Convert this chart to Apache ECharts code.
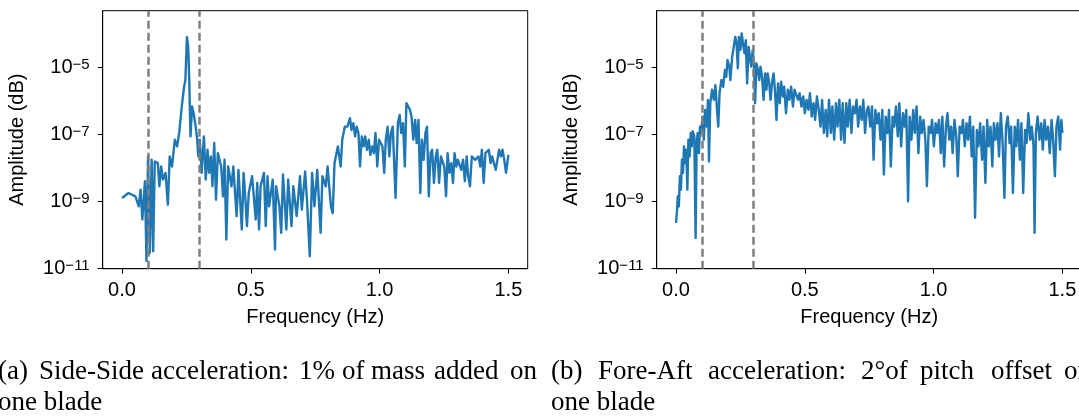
<!DOCTYPE html>
<html>
<head>
<meta charset="utf-8">
<script src="https://cdn.jsdelivr.net/npm/echarts@6/dist/echarts.min.js"></script>
<style>
html,body{margin:0;padding:0;background:#fff;}
#chart{width:1079px;height:416px;}
</style>
</head>
<body>
<div id="chart"></div>
<script>
// ---- data (frequency in Hz, amplitude stored as log10 of the value) ----
const xTickValues = [0, 0.5, 1.0, 1.5];
const yTickValues = [1e-11, 1e-9, 1e-7, 1e-5];
const markerFreqs = [0.1, 0.3];

const sideSideFreq = [
0.000,0.025,0.052,0.065,0.072,0.079,0.089,0.095,0.101,0.108,
0.115,0.121,0.127,0.139,0.145,0.152,0.159,0.169,0.178,0.185,
0.194,0.205,0.214,0.222,0.232,0.241,0.246,0.252,0.257,0.261,
0.264,0.266,0.272,0.278,0.285,0.292,0.296,0.302,0.309,0.318,
0.325,0.332,0.338,0.345,0.351,0.358,0.365,0.372,0.385,0.392,
0.398,0.405,0.412,0.425,0.432,0.445,0.452,0.465,0.472,0.479,
0.485,0.492,0.505,0.519,0.525,0.532,0.538,0.551,0.558,0.565,
0.571,0.585,0.594,0.598,0.611,0.618,0.625,0.638,0.645,0.658,
0.665,0.678,0.691,0.698,0.711,0.718,0.729,0.738,0.747,0.758,
0.771,0.778,0.791,0.798,0.811,0.818,0.825,0.838,0.849,0.855,
0.865,0.875,0.885,0.891,0.898,0.905,0.911,0.918,0.924,0.931,
0.938,0.944,0.951,0.958,0.964,0.971,0.978,0.984,0.991,0.998,
1.011,1.018,1.024,1.031,1.038,1.044,1.051,1.062,1.071,1.078,
1.084,1.091,1.098,1.104,1.111,1.118,1.124,1.131,1.138,1.144,
1.151,1.158,1.164,1.171,1.178,1.184,1.191,1.198,1.204,1.211,
1.218,1.224,1.231,1.238,1.251,1.258,1.264,1.271,1.278,1.285,
1.291,1.298,1.304,1.317,1.324,1.331,1.338,1.344,1.351,1.358,
1.371,1.384,1.391,1.397,1.404,1.411,1.424,1.431,1.437,1.451,
1.464,1.471,1.477,1.484,1.491,1.500
];
const sideSideLogAmp = [
-8.89,-8.74,-8.84,-9.14,-8.64,-9.53,-8.39,-10.77,-7.65,-10.53,
-7.75,-10.48,-7.80,-7.85,-8.54,-7.95,-8.34,-8.14,-9.09,-7.65,
-7.95,-7.15,-7.35,-6.95,-6.16,-5.57,-5.37,-4.08,-4.38,-5.37,
-6.46,-7.05,-6.16,-6.36,-6.71,-7.15,-7.65,-7.15,-8.14,-7.05,
-8.34,-7.45,-8.14,-7.65,-8.54,-7.25,-8.94,-7.55,-7.95,-8.84,
-7.75,-10.13,-7.95,-8.54,-7.95,-9.43,-8.05,-9.83,-8.14,-8.94,
-9.73,-8.74,-8.24,-9.53,-8.44,-9.83,-8.54,-8.14,-9.73,-8.24,
-9.14,-8.34,-10.43,-8.54,-9.14,-9.93,-8.19,-9.83,-8.34,-9.73,
-8.54,-9.43,-8.24,-9.24,-8.10,-8.94,-10.63,-8.14,-9.14,-8.05,
-9.93,-8.24,-8.54,-7.95,-9.14,-9.34,-7.85,-7.35,-7.95,-7.15,
-6.76,-6.76,-6.51,-6.86,-6.66,-7.05,-6.76,-6.95,-7.95,-7.05,
-7.35,-7.05,-7.45,-7.15,-7.60,-7.35,-7.55,-6.95,-7.95,-7.15,
-7.35,-8.14,-7.15,-6.76,-7.65,-6.95,-6.76,-8.89,-6.66,-6.41,
-6.95,-6.66,-7.95,-6.06,-6.11,-6.26,-6.46,-7.15,-6.56,-7.25,
-6.56,-8.74,-7.15,-7.75,-6.95,-6.76,-8.84,-7.55,-7.45,-8.44,
-7.65,-7.45,-8.44,-7.65,-7.95,-8.84,-7.55,-8.14,-7.85,-8.44,
-7.55,-7.95,-7.75,-8.05,-7.75,-8.39,-7.65,-8.24,-8.54,-7.65,
-7.75,-7.65,-7.95,-7.45,-8.44,-7.55,-7.45,-7.85,-7.65,-8.05,
-7.45,-7.65,-7.45,-7.75,-8.14,-7.60
];

const foreAftFreq = [
0.000,0.004,0.007,0.011,0.015,0.019,0.023,0.027,0.031,0.036,
0.040,0.044,0.048,0.053,0.057,0.061,0.065,0.071,0.076,0.080,
0.084,0.089,0.093,0.097,0.103,0.108,0.113,0.119,0.124,0.128,
0.133,0.140,0.147,0.153,0.160,0.164,0.169,0.176,0.183,0.190,
0.195,0.200,0.207,0.211,0.218,0.224,0.230,0.235,0.240,0.244,
0.250,0.255,0.260,0.266,0.271,0.276,0.282,0.287,0.292,0.298,
0.303,0.307,0.312,0.318,0.323,0.328,0.334,0.340,0.346,0.351,
0.356,0.362,0.367,0.374,0.379,0.384,0.390,0.396,0.403,0.408,
0.415,0.420,0.427,0.434,0.440,0.447,0.454,0.460,0.467,0.474,
0.480,0.487,0.494,0.500,0.507,0.514,0.520,0.527,0.534,0.540,
0.547,0.554,0.561,0.567,0.574,0.581,0.587,0.594,0.601,0.607,
0.614,0.621,0.627,0.634,0.641,0.647,0.654,0.661,0.667,0.674,
0.681,0.687,0.694,0.701,0.707,0.714,0.721,0.727,0.734,0.741,
0.747,0.754,0.761,0.767,0.774,0.781,0.787,0.794,0.801,0.807,
0.814,0.821,0.827,0.834,0.841,0.847,0.854,0.861,0.867,0.874,
0.881,0.887,0.894,0.901,0.907,0.914,0.921,0.927,0.934,0.941,
0.948,0.954,0.961,0.968,0.974,0.981,0.988,0.994,1.001,1.008,
1.014,1.021,1.028,1.034,1.041,1.048,1.054,1.061,1.068,1.074,
1.081,1.088,1.094,1.101,1.108,1.114,1.121,1.128,1.134,1.141,
1.148,1.154,1.161,1.168,1.174,1.181,1.188,1.194,1.201,1.208,
1.214,1.221,1.228,1.234,1.241,1.248,1.254,1.261,1.268,1.275,
1.281,1.288,1.295,1.301,1.308,1.315,1.321,1.328,1.335,1.341,
1.348,1.355,1.361,1.368,1.375,1.381,1.388,1.392,1.397,1.404,
1.411,1.418,1.424,1.431,1.437,1.444,1.451,1.458,1.464,1.471,
1.477,1.484,1.491,1.496,1.500
];
const foreAftLogAmp = [
-9.63,-9.24,-8.84,-9.14,-8.24,-8.64,-7.75,-8.14,-7.35,-7.85,
-7.45,-8.64,-7.15,-7.65,-6.95,-7.35,-6.90,-7.05,-10.08,-7.25,
-6.95,-7.55,-6.76,-6.95,-6.46,-7.15,-6.26,-6.76,-5.96,-7.80,
-6.06,-5.66,-5.96,-5.52,-6.36,-6.76,-5.76,-5.37,-5.57,-5.07,
-5.27,-4.77,-4.97,-5.37,-4.67,-4.38,-4.08,-4.28,-5.02,-4.08,
-4.47,-3.98,-4.28,-4.57,-4.18,-5.47,-4.38,-4.67,-4.97,-4.47,
-4.97,-6.06,-4.87,-5.07,-5.37,-4.97,-5.27,-5.96,-5.17,-5.66,
-5.17,-5.47,-5.96,-5.37,-5.17,-5.66,-6.56,-5.47,-6.06,-5.42,
-5.86,-5.57,-6.36,-5.66,-5.96,-5.57,-6.16,-5.66,-5.62,-5.96,
-5.76,-6.16,-5.86,-6.36,-5.96,-6.26,-5.76,-6.46,-6.06,-6.56,
-5.86,-6.26,-6.76,-5.96,-6.95,-6.26,-7.05,-5.96,-6.95,-6.16,
-7.15,-6.06,-6.76,-5.96,-7.15,-6.06,-7.25,-6.06,-6.76,-5.96,
-6.95,-6.16,-6.36,-5.96,-6.76,-6.16,-6.56,-5.96,-6.95,-6.26,
-6.16,-6.76,-6.16,-7.75,-6.26,-6.66,-6.36,-7.15,-6.26,-8.19,
-6.46,-6.95,-6.26,-7.95,-6.46,-6.76,-6.16,-7.05,-6.06,-7.35,
-6.36,-6.76,-6.26,-8.99,-6.46,-7.15,-6.26,-6.95,-6.16,-7.55,
-6.46,-6.95,-6.56,-7.15,-8.54,-6.76,-6.95,-6.56,-7.35,-6.66,
-6.95,-6.56,-7.55,-6.46,-7.95,-6.76,-6.36,-7.15,-6.76,-7.55,
-6.56,-7.05,-8.24,-6.76,-6.95,-6.56,-7.35,-6.66,-7.15,-6.46,
-7.65,-6.76,-9.48,-6.86,-7.35,-6.66,-7.75,-6.76,-8.44,-6.56,
-7.35,-6.76,-7.95,-6.66,-7.15,-6.66,-7.65,-6.36,-7.25,-8.89,
-6.76,-6.46,-7.25,-6.76,-8.74,-6.76,-7.35,-6.56,-7.75,-6.66,
-8.74,-6.86,-7.25,-6.36,-7.15,-6.76,-7.35,-9.93,-6.95,-6.46,
-7.15,-6.66,-7.45,-6.56,-7.15,-6.76,-7.55,-6.56,-7.15,-8.24,
-6.76,-6.46,-7.45,-6.56,-6.95
];

// ---- chart ----
const SANS = '"Liberation Sans", Arial, sans-serif';
const SERIF = '"Liberation Serif", "DejaVu Serif", serif';

function pairs(freq, logAmp) {
  return freq.map((f, i) => [f, Math.pow(10, logAmp[i])]);
}

const grids = [
  {left: 102.7, top: 10.7, width: 425, height: 258},
  {left: 656.7, top: 10.7, width: 425, height: 258}
];

function xAxisCfg(i) {
  return {
    gridIndex: i, type: 'value', min: -0.075, max: 1.575,
    axisLine: {show: true, onZero: false, lineStyle: {color: '#000', width: 1}},
    axisTick: {show: true, customValues: xTickValues, length: 5, inside: false, lineStyle: {color: '#000', width: 1}},
    axisLabel: {show: true, customValues: xTickValues, formatter: v => Number(v).toFixed(1),
      fontSize: 20, lineHeight: 20, fontFamily: SANS, color: '#000', margin: 12},
    splitLine: {show: false},
    name: 'Frequency (Hz)', nameLocation: 'middle', nameGap: 39,
    nameTextStyle: {fontSize: 20, fontFamily: SANS, color: '#000'}
  };
}
function yAxisCfg(i) {
  return {
    gridIndex: i, type: 'log', logBase: 10, min: 1e-11, max: Math.pow(10, -3.3),
    axisLine: {show: true, onZero: false, lineStyle: {color: '#000', width: 1}},
    axisTick: {show: true, customValues: yTickValues, length: 5, inside: false, lineStyle: {color: '#000', width: 1}},
    axisLabel: {show: true, customValues: yTickValues, margin: 13,
      formatter: v => '{b|10}{s|\u2212' + Math.round(-Math.log10(v)) + '}',
      rich: {
        b: {fontSize: 20, lineHeight: 20, fontFamily: SANS, color: '#000', padding: [11, 0, 0, 0], verticalAlign: 'bottom'},
        s: {fontSize: 15, lineHeight: 15, fontFamily: SANS, color: '#000', verticalAlign: 'top'}
      }},
    splitLine: {show: false},
    name: 'Amplitude (dB)', nameLocation: 'middle', nameGap: 75, nameRotate: 90,
    nameTextStyle: {fontSize: 20, fontFamily: SANS, color: '#000'}
  };
}
function seriesCfg(i, data) {
  return {
    type: 'line', xAxisIndex: i, yAxisIndex: i, data: data,
    symbol: 'none', showSymbol: false, clip: true, animation: false,
    lineStyle: {color: '#1f77b4', width: 2.4, join: 'round'},
    itemStyle: {color: '#1f77b4'},
    emphasis: {disabled: true},
    markLine: {
      silent: true, symbol: ['none', 'none'], animation: false,
      label: {show: false},
      lineStyle: {color: '#7f7f7f', type: [8, 4], width: 2.5},
      emphasis: {disabled: true},
      data: markerFreqs.map(f => ({xAxis: f}))
    }
  };
}

const capFont = '27px ' + SERIF;
const captionWords = [
  ['(a)', -2, 372], ['Side-Side', 39, 372], ['acceleration:', 151, 372], ['1%', 299, 372],
  ['of', 342, 372], ['mass', 371, 372], ['added', 434, 372], ['on', 510, 372],
  ['one blade', -2, 403],
  ['(b)', 551, 372], ['Fore-Aft', 598, 372], ['acceleration:', 708, 372], ['2\u00b0of', 861, 372],
  ['pitch', 920, 372], ['offset', 991, 372], ['on', 1064, 372],
  ['one blade', 551, 403]
];

const chart = echarts.init(document.getElementById('chart'), null, {renderer: 'canvas', width: 1079, height: 416});
chart.setOption({
  animation: false,
  backgroundColor: '#fff',
  grid: grids.map(g => Object.assign({show: true, borderColor: '#000', borderWidth: 1,
    backgroundColor: 'transparent', containLabel: false, outerBoundsMode: 'none'}, g)),
  xAxis: [xAxisCfg(0), xAxisCfg(1)],
  yAxis: [yAxisCfg(0), yAxisCfg(1)],
  series: [seriesCfg(0, pairs(sideSideFreq, sideSideLogAmp)), seriesCfg(1, pairs(foreAftFreq, foreAftLogAmp))],
  graphic: captionWords.map(w => ({
    type: 'text', x: w[1], y: w[2], silent: true,
    style: {text: w[0], font: capFont, fill: '#000', align: 'left', verticalAlign: 'middle'}
  }))
});
</script>
</body>
</html>
